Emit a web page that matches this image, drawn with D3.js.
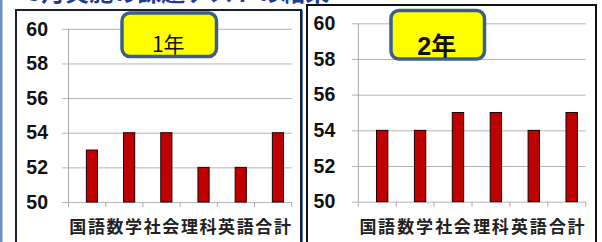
<!DOCTYPE html>
<html>
<head>
<meta charset="utf-8">
<script src="https://cdn.jsdelivr.net/npm/d3@7"></script>
<style>
  body { margin: 0; background: #fff; }
  svg { display: block; }
  .ylab { font-family: "Liberation Sans", Arial, sans-serif; font-weight: 700; font-size: 19.5px; }
</style>
</head>
<body>
<svg id="vis" width="602" height="242"></svg>
<script>
const subjects = ['国語', '数学', '社会', '理科', '英語', '合計'];
const year1Scores = [53, 54, 54, 52, 52, 54];
const year2Scores = [54, 54, 55, 55, 54, 55];
const yTicks = [50, 52, 54, 56, 58, 60];
const pageTitle = '5月実施の課題テストの結果';

const svg = d3.select('#vis');

// left edge of the slide
svg.append('rect')
  .attr('x', 0).attr('y', 0).attr('width', 2.5).attr('height', 242)
  .attr('fill', '#6f8fc4');

// page title, cut off at the top like the screenshot
svg.append('text')
  .attr('x', 27).attr('y', 1)
  .style('font-family', '"Noto Sans CJK JP", sans-serif')
  .style('font-weight', 'bold')
  .style('font-size', '24px')
  .attr('fill', '#1f3d8c')
  .text(pageTitle);

// panel frames
svg.append('rect')
  .attr('x', 16).attr('y', 10).attr('width', 285).attr('height', 240)
  .attr('fill', '#fff').attr('stroke', '#1b1f2e').attr('stroke-width', 2);
svg.append('line')
  .attr('x1', 302.5).attr('x2', 302.5).attr('y1', 10).attr('y2', 242)
  .attr('stroke', '#5a7fc0').attr('stroke-width', 1);
svg.append('rect')
  .attr('x', 307).attr('y', 5).attr('width', 289).attr('height', 245)
  .attr('fill', '#fff').attr('stroke', '#111').attr('stroke-width', 2);

drawPanel({
  left: 68.5, right: 291.7, top: 28.8, bottom: 202, pad: 20.5,
  values: year1Scores,
  label: '1年', labelBold: false, labelSize: 21,
  box: { x: 122, y: 13, w: 94.5, h: 43.5 }, labelY: 52
});

drawPanel({
  left: 358.3, right: 585.7, top: 23.3, bottom: 201.7, pad: 23,
  values: year2Scores,
  label: '2年', labelBold: true, labelSize: 25,
  box: { x: 391, y: 10.5, w: 93.5, h: 48.5 }, labelY: 55
});

function drawPanel (o) {
  const g = svg.append('g');

  const x = d3.scaleBand().domain(subjects).range([o.left, o.right]);
  const y = d3.scaleLinear().domain([50, 60]).range([o.bottom, o.top]);
  const bw = x.bandwidth();

  // gridlines + y ticks
  const yAxis = d3.axisLeft(y).tickValues(yTicks).tickSize(-(o.right - o.left)).tickPadding(o.pad);
  const ya = g.append('g').attr('transform', `translate(${o.left},0)`).call(yAxis);
  ya.attr('font-size', null).attr('font-family', null);
  ya.select('.domain').remove();
  ya.selectAll('.tick line')
    .attr('x1', -6.5)
    .attr('stroke', '#b5b5b5');
  ya.selectAll('.tick text')
    .attr('class', 'ylab')
    .attr('fill', '#111');

  // vertical axis line
  g.append('line')
    .attr('x1', o.left).attr('x2', o.left)
    .attr('y1', o.top).attr('y2', o.bottom)
    .attr('stroke', '#a8a8a8');

  // category boundary ticks
  const bounds = subjects.map(d => x(d)).concat([o.right]);
  g.selectAll('.ctick').data(bounds).enter().append('line')
    .attr('x1', d => d).attr('x2', d => d)
    .attr('y1', o.bottom).attr('y2', o.bottom + 5)
    .attr('stroke', '#a8a8a8');

  // bars (second, empty series slot leaves them right of centre)
  g.selectAll('.bar').data(o.values).enter().append('rect')
    .attr('x', (d, i) => x(subjects[i]) + bw * 0.48)
    .attr('y', d => y(d))
    .attr('width', bw * 0.3)
    .attr('height', d => o.bottom - y(d))
    .attr('fill', '#c00000')
    .attr('stroke', '#200000')
    .attr('stroke-width', 1);

  // x labels
  g.selectAll('.xl').data(subjects).enter().append('text')
    .attr('x', d => x(d) + bw / 2 + 0.8)
    .attr('y', 233)
    .attr('text-anchor', 'middle')
    .style('font-family', '"Noto Sans CJK JP", sans-serif')
    .style('font-weight', 'bold')
    .style('font-size', '17px')
    .style('letter-spacing', '1.6px')
    .attr('fill', '#222')
    .text(d => d);

  // year label box
  g.append('rect')
    .attr('x', o.box.x).attr('y', o.box.y)
    .attr('width', o.box.w).attr('height', o.box.h)
    .attr('rx', 8).attr('ry', 8)
    .attr('fill', '#ffff00')
    .attr('stroke', '#3d5f8e')
    .attr('stroke-width', 3.5);
  g.append('text')
    .attr('x', o.box.x + o.box.w / 2 - 1)
    .attr('y', o.labelY)
    .attr('text-anchor', 'middle')
    .style('font-family', o.labelBold ? '"Liberation Sans", Arial, "Noto Sans CJK JP", sans-serif' : '"Noto Sans CJK JP", sans-serif')
    .style('font-weight', o.labelBold ? 'bold' : 'normal')
    .style('font-size', o.labelSize + 'px')
    .attr('fill', '#111')
    .text(o.label);
}
</script>
</body>
</html>
